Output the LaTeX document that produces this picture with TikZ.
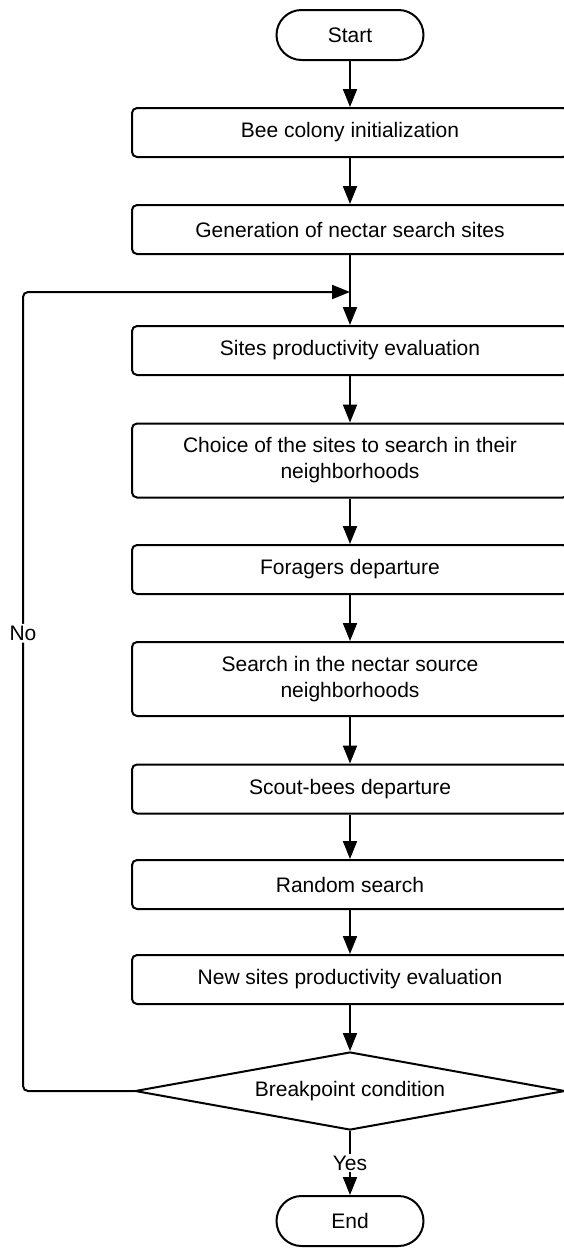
\documentclass[tikz,border=0pt]{standalone}
\usepackage{fontspec}
\setmainfont{Liberation Sans}
\usetikzlibrary{shapes.geometric,arrows.meta}
\begin{document}
\begin{tikzpicture}[x=1pt,y=-1pt,
  font=\fontsize{21}{26}\selectfont,
  line/.style={line width=2pt, draw=black},
  flow/.style={line, -{Triangle[length=18pt,width=14pt]}},
  terminal/.style={line, rectangle, rounded corners=25pt, minimum width=147pt,
    minimum height=50pt, inner sep=0pt},
  stepbox/.style={line, rectangle, rounded corners=5pt, minimum width=436pt,
    minimum height=49pt, inner sep=0pt, align=center},
  tallbox/.style={stepbox, minimum height=74pt},
  decision/.style={line, diamond, minimum width=430pt, minimum height=78pt,
    inner sep=0pt, aspect=5.5},
  lbl/.style={fill=white, inner sep=2pt}]
  \useasboundingbox (0,0) rectangle (563,1248);

  % process steps down the main column
  \node[terminal] (start) at (350,35) {Start};
  \node[stepbox] (init) at (350,132.5) {Bee colony initialization};
  \node[stepbox] (gen) at (350,229.5) {Generation of nectar search sites};
  \node[stepbox] (eval) at (350,350.5) {Sites productivity evaluation};
  \node[tallbox] (choice) at (350,460.5) {Choice of the sites to search in their\\neighborhoods};
  \node[stepbox] (forag) at (350,569.5) {Foragers departure};
  \node[tallbox] (search) at (350,679) {Search in the nectar source\\neighborhoods};
  \node[stepbox] (scout) at (350,789) {Scout-bees departure};
  \node[stepbox] (rand) at (350,884.5) {Random search};
  \node[stepbox] (neweval) at (350,979.5) {New sites productivity evaluation};
  \node[decision] (cond) at (350,1091) {Breakpoint condition};
  \node[terminal] (end) at (350,1221) {End};

  % loop-back corner and junction on the main line
  \coordinate (loopL) at (23,292);
  \coordinate (joint) at (350,292);

  \draw[flow] (start) -- (init);
  \draw[flow] (init) -- (gen);
  \draw[flow] (gen) -- (eval);
  \draw[flow] (eval) -- (choice);
  \draw[flow] (choice) -- (forag);
  \draw[flow] (forag) -- (search);
  \draw[flow] (search) -- (scout);
  \draw[flow] (scout) -- (rand);
  \draw[flow] (rand) -- (neweval);
  \draw[flow] (neweval) -- (cond);
  \draw[flow] (cond) -- node[lbl] {Yes} (end);
  \draw[flow, rounded corners=5pt] (cond.west) -- (loopL |- cond.west)
    -- node[lbl, pos=0.573] {No} (loopL) -- (joint);
\end{tikzpicture}
\end{document}
